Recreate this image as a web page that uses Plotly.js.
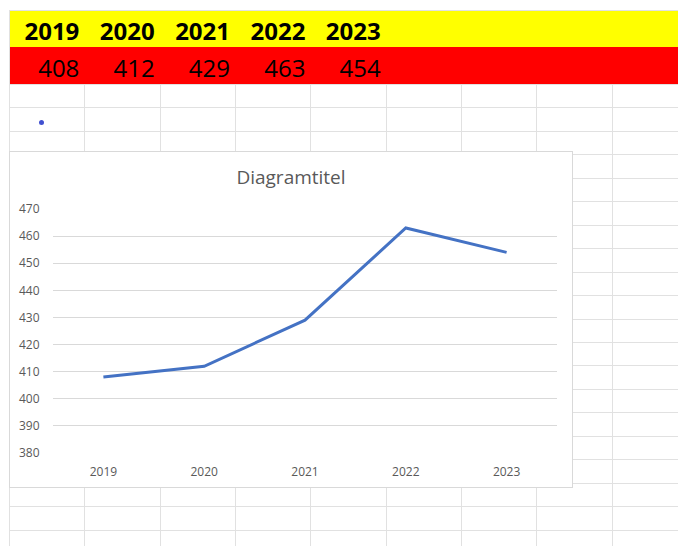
<!DOCTYPE html>
<html>
<head>
<meta charset="utf-8">
<script src="https://cdn.plot.ly/plotly-3.0.1.min.js"></script>
<style>
  html, body { margin:0; padding:0; background:#fff; width:678px; height:546px; overflow:hidden; }
  #sheet { position:absolute; left:0; top:0; width:678px; height:546px; }
  .hl { position:absolute; height:1px; background:#e1e1e1; }
  .vl { position:absolute; width:1px; background:#e1e1e1; }
  .cell { position:absolute; text-align:right; font-family:'Open Sans', sans-serif; font-size:24px; line-height:33px; color:#000; white-space:nowrap; }
  #chartbox { position:absolute; left:9px; top:151px; width:562px; height:335px; border:1px solid #d9d9d9; background:#fff; }
  #chart { width:562px; height:335px; }
</style>
</head>
<body>
<div id="sheet"></div>
<div id="chartbox"><div id="chart"></div></div>
<script>
// ---- data ----
var years = ['2019', '2020', '2021', '2022', '2023'];
var values = [408, 412, 429, 463, 454];
var yTicks = [380, 390, 400, 410, 420, 430, 440, 450, 460, 470];
var chartTitle = 'Diagramtitel';

// ---- spreadsheet background ----
var sheet = document.getElementById('sheet');
var colW = 75.35, left0 = 9, rowH = 23.45, gridTop = 84;
function add(cls, css, txt) {
  var d = document.createElement('div');
  d.className = cls || '';
  d.style.cssText = css;
  if (txt !== undefined) d.textContent = txt;
  sheet.appendChild(d);
  return d;
}
// yellow and red rows
add('', 'position:absolute;left:9px;top:11px;width:669px;height:36px;background:#ffff00;');
add('', 'position:absolute;left:9px;top:47px;width:669px;height:37px;background:#ff0000;');
add('hl', 'left:9px;top:10px;width:669px;');
// grid lines
for (var r = 0; gridTop + r * rowH < 546; r++) {
  add('hl', 'left:9px;top:' + Math.round(gridTop + r * rowH) + 'px;width:669px;');
}
add('vl', 'left:9px;top:10px;height:536px;');
for (var c = 1; left0 + c * colW < 678; c++) {
  add('vl', 'left:' + Math.round(left0 + c * colW) + 'px;top:' + gridTop + 'px;height:' + (546 - gridTop) + 'px;');
}
// header texts
for (var i = 0; i < years.length; i++) {
  var x = left0 + i * colW;
  add('cell', 'left:' + x + 'px;top:14px;width:' + (colW - 5) + 'px;font-weight:bold;', years[i]);
  add('cell', 'left:' + x + 'px;top:50.5px;width:' + (colW - 5) + 'px;', String(values[i]));
}
// small blue dot
add('', 'position:absolute;left:39px;top:119.5px;width:5px;height:5px;border-radius:50%;background:#4050d0;');

// ---- chart ----
var trace = {
  x: years,
  y: values,
  type: 'scatter',
  mode: 'lines',
  line: { color: '#4472C4', width: 3 },
  hoverinfo: 'none'
};
var layout = {
  width: 562,
  height: 335,
  margin: { l: 43, r: 15, t: 57, b: 34 },
  paper_bgcolor: '#ffffff',
  plot_bgcolor: '#ffffff',
  showlegend: false,
  font: { family: 'Open Sans, sans-serif', size: 12, color: '#595959' },
  title: {
    text: chartTitle,
    font: { family: 'Open Sans, sans-serif', size: 19, color: '#595959' },
    x: 0.5, xref: 'container', xanchor: 'center',
    y: 1 - 25.5 / 335, yref: 'container', yanchor: 'middle'
  },
  xaxis: {
    type: 'category',
    range: [-0.5, 4.5],
    showgrid: false,
    zeroline: false,
    showline: false,
    ticks: 'outside',
    ticklen: 8,
    tickcolor: 'rgba(0,0,0,0)',
    tickfont: { size: 12, color: '#595959' },
    fixedrange: true
  },
  yaxis: {
    range: [380, 470],
    tickvals: yTicks,
    ticktext: yTicks.map(String),
    showgrid: true,
    gridcolor: '#d9d9d9',
    gridwidth: 1,
    zeroline: false,
    showline: false,
    ticks: 'outside',
    ticklen: 10,
    tickcolor: 'rgba(0,0,0,0)',
    tickfont: { size: 12, color: '#595959' },
    fixedrange: true
  }
};
Plotly.newPlot('chart', [trace], layout, { displayModeBar: false, staticPlot: true });
</script>
</body>
</html>
